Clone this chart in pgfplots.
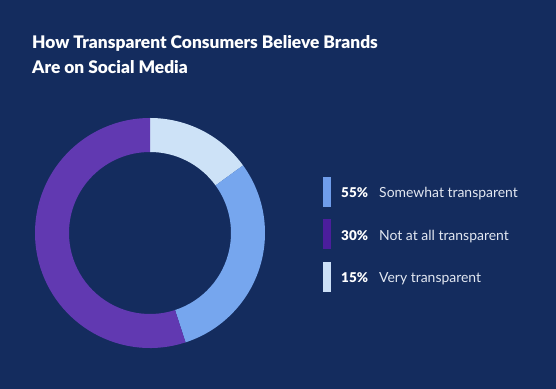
\documentclass[border=0pt]{standalone}
\usepackage{fontspec}
\setmainfont{Lato}
\newfontfamily\titlefont{Lato Black}
\usepackage{pgfplots}
\usepackage{pgfplotstable}
\pgfplotsset{compat=1.18}
\definecolor{bg}{HTML}{142C5E}
\definecolor{lightc}{HTML}{CDE2F7}
\definecolor{medc}{HTML}{76A6EE}
\definecolor{purc}{HTML}{6139B1}
\definecolor{medleg}{HTML}{6F9DEB}
\definecolor{purleg}{HTML}{4B1E9C}
\definecolor{lightleg}{HTML}{CCE0F7}
\definecolor{labc}{HTML}{E3E8F2}
% donut segments as drawn, clockwise from 12 o'clock
\pgfplotstableread{
label value
Very 15
Somewhat 30
Notatall 55
}\donutdata
\pgfplotstablegetelem{0}{value}\of\donutdata \edef\vA{\pgfplotsretval}
\pgfplotstablegetelem{1}{value}\of\donutdata \edef\vB{\pgfplotsretval}
\pgfplotstablegetelem{2}{value}\of\donutdata \edef\vC{\pgfplotsretval}
\pgfmathsetmacro\aZero{90}
\pgfmathsetmacro\aOne{90-\vA*3.6}
\pgfmathsetmacro\aTwo{90-(\vA+\vB)*3.6}
\pgfmathsetmacro\aThree{90-(\vA+\vB+\vC)*3.6}
\def\ro{115bp}
\def\ri{81bp}
\newcommand\seg[3]{%
  \fill[#3] ([shift={(#1:\ro)}]C) arc[start angle=#1, end angle=#2, radius=\ro]
    -- ([shift={(#2:\ri)}]C) arc[start angle=#2, end angle=#1, radius=\ri] -- cycle;}
\begin{document}
\begin{tikzpicture}
\begin{axis}[
  width=556bp, height=389bp, scale only axis,
  xmin=0, xmax=556, ymin=0, ymax=389,
  hide axis, clip=false,
  axis background/.style={fill=bg},
]
\fill[bg] (axis cs:0,0) rectangle (axis cs:556,389);
\coordinate (C) at (axis cs:150,156);
\seg{\aZero}{\aOne}{lightc}
\seg{\aOne}{\aTwo}{medc}
\seg{\aTwo}{\aThree}{purc}
% title
\node[anchor=base west, text=white, font=\fontsize{17.4}{20}\titlefont, inner sep=0pt]
  at (axis cs:32,340) {How Transparent Consumers Believe Brands};
\node[anchor=base west, text=white, font=\fontsize{17.4}{20}\titlefont, inner sep=0pt]
  at (axis cs:32,315) {Are on Social Media};
% legend
\fill[medleg] (axis cs:323,182) rectangle (axis cs:331,212);
\fill[purleg] (axis cs:323,140) rectangle (axis cs:331,170);
\fill[lightleg] (axis cs:323,97) rectangle (axis cs:331,127);
\node[anchor=base west, text=white, font=\fontsize{13.5}{15}\titlefont, inner sep=0pt] at (axis cs:341,191) {55\%};
\node[anchor=base west, text=labc, font=\fontsize{14}{15}\selectfont, inner sep=0pt] at (axis cs:379,191) {Somewhat transparent};
\node[anchor=base west, text=white, font=\fontsize{13.5}{15}\titlefont, inner sep=0pt] at (axis cs:341,148) {30\%};
\node[anchor=base west, text=labc, font=\fontsize{14}{15}\selectfont, inner sep=0pt] at (axis cs:379,148) {Not at all transparent};
\node[anchor=base west, text=white, font=\fontsize{13.5}{15}\titlefont, inner sep=0pt] at (axis cs:341,106) {15\%};
\node[anchor=base west, text=labc, font=\fontsize{14}{15}\selectfont, inner sep=0pt] at (axis cs:379,106) {Very transparent};
\end{axis}
\end{tikzpicture}
\end{document}
